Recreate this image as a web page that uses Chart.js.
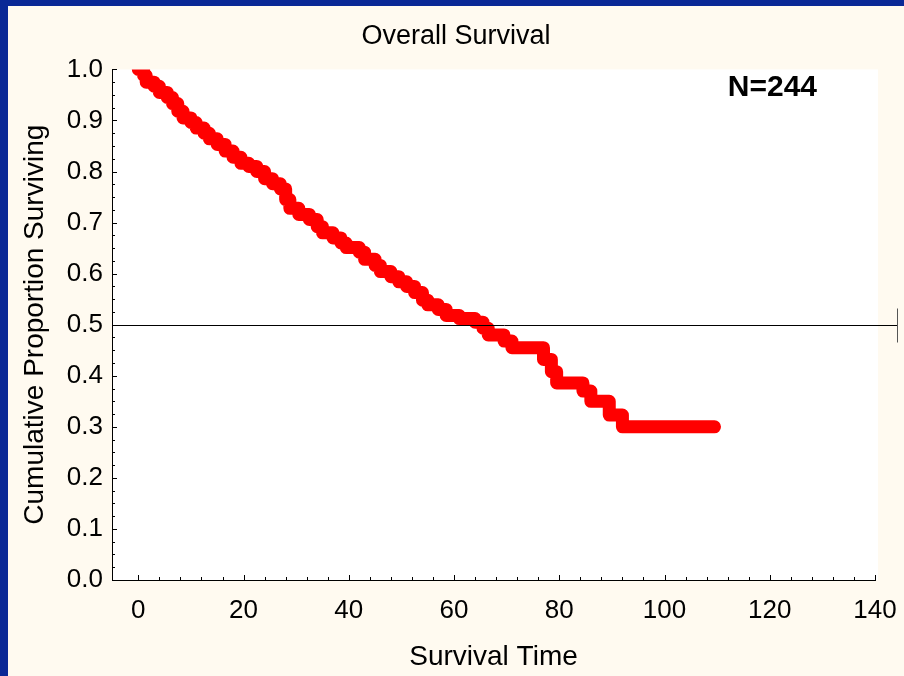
<!DOCTYPE html>
<html>
<head>
<meta charset="utf-8">
<script src="https://cdn.jsdelivr.net/npm/chart.js@4.4.1/dist/chart.umd.min.js"></script>
<style>
    html, body { margin: 0; padding: 0; background: #0a2896; }
    #frame { position: absolute; left: 8px; top: 6px; width: 896px; height: 670px; background: #fffaf0; }
</style>
</head>
<body>
<div id="frame"><canvas id="survivalChart" width="896" height="670"></canvas></div>
<script>
// Kaplan-Meier curve: time of each drop and the proportion left after it
const eventTimes = [0, 1, 1.5, 3, 4, 5.5, 6.5, 7.5, 8.5, 10, 11, 12.5, 13.5, 15, 16.5, 18, 19.5, 21, 22.5, 24,
    25.5, 27, 28, 28.8, 30.5, 32.5, 34, 35, 37, 38.5, 39.5, 42, 43, 45, 46, 48, 49.5, 51, 52.5, 54,
    55, 57, 58.5, 61, 64, 65.5, 66.5, 69.5, 71, 77, 78.5, 79.5, 84.5, 86, 89.5, 92, 109.5];
const survival = [1.0, 0.988, 0.975, 0.967, 0.955, 0.945, 0.933, 0.918, 0.905, 0.896, 0.885, 0.875, 0.864, 0.853, 0.84, 0.828, 0.816, 0.81, 0.8, 0.786,
    0.776, 0.766, 0.745, 0.728, 0.716, 0.706, 0.692, 0.68, 0.67, 0.66, 0.651, 0.642, 0.628, 0.616, 0.604, 0.594, 0.584, 0.575, 0.563, 0.548,
    0.539, 0.53, 0.518, 0.512, 0.505, 0.493, 0.48, 0.468, 0.455, 0.432, 0.408, 0.386, 0.37, 0.35, 0.323, 0.3, 0.3];
const xTickValues = [0, 20, 40, 60, 80, 100, 120, 140];
const yTickValues = [0, 0.1, 0.2, 0.3, 0.4, 0.5, 0.6, 0.7, 0.8, 0.9, 1.0];
const medianLevel = 0.5;
const sampleLabel = 'N=244';

const FONT = "'Liberation Sans', Arial, sans-serif";

// white plot area, inward tick marks, the 0.5 line and the N label
const survivalDecor = {
    id: 'survivalDecor',
    beforeDraw(chart) {
        const a = chart.chartArea;
        const ctx = chart.ctx;
        ctx.save();
        ctx.fillStyle = '#ffffff';
        ctx.fillRect(a.left, a.top, a.right - a.left + 3, a.bottom - a.top);
        ctx.restore();
    },
    afterDraw(chart) {
        const ctx = chart.ctx;
        const a = chart.chartArea;
        const xs = chart.scales.x;
        const ys = chart.scales.y;
        ctx.save();
        ctx.strokeStyle = '#000';
        ctx.lineWidth = 1;
        ctx.beginPath();
        for (let v = 0; v <= 140; v += 4) {
            const px = Math.round(xs.getPixelForValue(v)) + 0.5;
            const len = v % 20 === 0 ? 5 : 3;
            ctx.moveTo(px, a.bottom);
            ctx.lineTo(px, a.bottom - len);
        }
        const px140 = Math.round(xs.getPixelForValue(140)) + 0.5;
        ctx.moveTo(px140, a.bottom);
        ctx.lineTo(px140, a.bottom - 5);
        for (let i = 0; i <= 40; i++) {
            const py = Math.round(ys.getPixelForValue(i * 0.025)) + 0.5;
            const len = i % 4 === 0 ? 5 : 3;
            ctx.moveTo(a.left, py);
            ctx.lineTo(a.left + len, py);
        }
        ctx.stroke();

        // median reference line
        const my = Math.round(ys.getPixelForValue(medianLevel)) + 0.5;
        const endX = a.right + 22;
        ctx.beginPath();
        ctx.moveTo(a.left, my);
        ctx.lineTo(endX, my);
        ctx.stroke();
        ctx.strokeStyle = '#555';
        ctx.beginPath();
        ctx.moveTo(endX + 0.5, my - 17);
        ctx.lineTo(endX + 0.5, my + 17);
        ctx.stroke();

        ctx.fillStyle = '#000';
        ctx.font = "bold 30px " + FONT;
        ctx.textAlign = 'right';
        ctx.textBaseline = 'middle';
        ctx.fillText(sampleLabel, a.right - 58, a.top + 18);
        ctx.restore();
    }
};

new Chart(document.getElementById('survivalChart'), {
    type: 'line',
    data: {
        datasets: [{
            data: eventTimes.map((t, i) => ({ x: t, y: survival[i] })),
            borderColor: '#ff0000',
            borderWidth: 13,
            borderCapStyle: 'round',
            borderJoinStyle: 'round',
            stepped: true,
            pointRadius: 0,
            fill: false,
            clip: 0
        }]
    },
    options: {
        responsive: false,
        animation: false,
        devicePixelRatio: 1,
        layout: { padding: 0 },
        plugins: {
            legend: { display: false },
            tooltip: { enabled: false },
            title: {
                display: true,
                text: 'Overall Survival',
                color: '#000',
                font: { family: FONT, size: 27, weight: 'normal' },
                padding: { top: 14, bottom: 17 }
            }
        },
        scales: {
            x: {
                type: 'linear',
                min: -5,
                max: 140,
                afterBuildTicks: s => { s.ticks = xTickValues.map(v => ({ value: v })); },
                afterFit: s => {
                    s.height = 96;
                    // the right strip already leaves room for the last label
                    s.paddingLeft = 0;
                    s.paddingRight = 0;
                },
                grid: { display: true, drawOnChartArea: false, drawTicks: false },
                border: { display: true, color: '#000', width: 1 },
                ticks: { color: '#000', font: { family: FONT, size: 26 }, padding: 15, maxRotation: 0, autoSkip: false },
                title: {
                    display: true,
                    text: 'Survival Time',
                    color: '#000',
                    font: { family: FONT, size: 28 },
                    padding: { top: 0, bottom: 2 }
                }
            },
            y: {
                type: 'linear',
                min: 0,
                max: 1,
                afterBuildTicks: s => { s.ticks = yTickValues.map(v => ({ value: v })); },
                afterFit: s => { s.width = 104; },
                grid: { display: true, drawOnChartArea: false, drawTicks: false },
                border: { display: true, color: '#000', width: 1 },
                ticks: { color: '#000', font: { family: FONT, size: 26 }, padding: 9, callback: v => v.toFixed(1) },
                title: {
                    display: true,
                    text: 'Cumulative Proportion Surviving',
                    color: '#000',
                    font: { family: FONT, size: 28 },
                    padding: { top: 10, bottom: 0 }
                }
            },
            // empty strip on the right, keeps the plot clear of the frame edge
            yRight: {
                position: 'right',
                display: true,
                afterFit: s => { s.width = 29; },
                grid: { display: false },
                border: { display: false },
                ticks: { display: false },
                title: { display: false }
            }
        }
    },
    plugins: [survivalDecor]
});
</script>
</body>
</html>
